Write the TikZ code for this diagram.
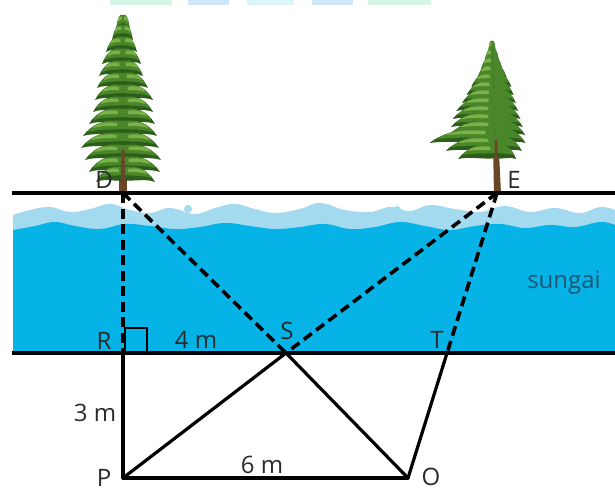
\documentclass[tikz,border=0pt]{standalone}
\usepackage{fontspec}
\setmainfont{Open Sans}
\usetikzlibrary{calc}
\definecolor{waterdeep}{HTML}{06B3E6}
\definecolor{waterfoam}{HTML}{A3DAF0}
\definecolor{needleA}{HTML}{2C5E1A}
\definecolor{needleB}{HTML}{4A872B}
\definecolor{needleC}{HTML}{7AB247}
\definecolor{bark}{HTML}{6A4628}
\definecolor{labelgrey}{HTML}{2A2A2A}
\definecolor{rivertext}{HTML}{1E5676}
\definecolor{stripG}{HTML}{D6F5E6}
\definecolor{stripB}{HTML}{CFE6F8}
\definecolor{stripC}{HTML}{DDF4FB}
\tikzset{
  bank/.style={line width=4pt, black},
  sight/.style={line width=3.6pt, black, dash pattern=on 10pt off 5.5pt},
  leg/.style={line width=3.2pt, black, line join=round, line cap=round},
  lbl/.style={font=\fontsize{24}{27}\selectfont, text=labelgrey, inner sep=0pt},
  strip/.style={draw=none}
}
\begin{document}
\begin{tikzpicture}[x=1pt,y=-1pt]
\useasboundingbox (0,0) rectangle (615,491);

% faint colour strips along the top edge
\fill[strip, fill=stripG] (110,0) rectangle (172,5);
\fill[strip, fill=stripB] (188,0) rectangle (229,5);
\fill[strip, fill=stripC] (247,0) rectangle (294,5);
\fill[strip, fill=stripB] (312,0) rectangle (353,5);
\fill[strip, fill=stripG] (368,0) rectangle (431,5);

% river: foam band and deep water
\fill[waterfoam] (13,353) -- (13,215)
  -- plot[smooth, tension=0.7] coordinates {(13,215) (30,210) (50,207) (70,212) (90,209) (110,204) (130,210) (150,213) (170,208) (195,214) (215,208) (235,204) (255,209) (275,213) (300,209) (320,203) (345,210) (370,212) (390,207) (410,211) (430,205) (455,209) (480,212) (505,206) (530,212) (555,208) (580,213) (600,207) (615,210)}
  -- (615,353) -- cycle;
\fill[waterdeep] (13,353) -- (13,230)
  -- plot[smooth, tension=0.7] coordinates {(13,230) (35,226) (55,222) (75,226) (100,229) (125,224) (150,226) (175,229) (200,227) (225,223) (250,226) (275,229) (300,227) (325,224) (350,229) (375,227) (400,222) (425,226) (450,230) (475,226) (500,224) (525,228) (550,225) (575,227) (600,222) (615,225)}
  -- (615,353) -- cycle;
\fill[waterfoam] (188,209) circle (4);
\fill[waterfoam] (397,210) circle (4);
\fill[waterfoam] (597,213) circle (4);

% left pine: trunk and drooping branch tiers
\fill[bark] (119,194) -- (127,194) -- (124.5,20) -- (121.5,20) -- cycle;
\foreach \y/\l/\r in {16/7/7, 26/11/10, 38/17/14, 50/21/18, 62/24/20, 74/26/25, 86/28/30, 98/30/30, 110/34/32, 122/40/34, 134/42/36, 146/38/38, 158/34/37, 168/27/32}{
  \fill[needleA] (123,\y) .. controls ({123-0.4*\l},{\y-3}) and ({123-0.8*\l},{\y+2}) .. ({123-\l},{\y+14})
     .. controls ({123-0.7*\l},{\y+10}) and ({123-0.3*\l},{\y+14}) .. (123,{\y+12}) -- cycle;
  \fill[needleA] (123,\y) .. controls ({123+0.4*\r},{\y-3}) and ({123+0.8*\r},{\y+2}) .. ({123+\r},{\y+14})
     .. controls ({123+0.7*\r},{\y+10}) and ({123+0.3*\r},{\y+14}) .. (123,{\y+12}) -- cycle;
  \fill[needleB] (123,{\y-1}) .. controls ({123-0.4*\l},{\y-3}) and ({123-0.75*\l},{\y+1}) .. ({123-0.88*\l},{\y+10})
     .. controls ({123-0.6*\l},{\y+7}) and ({123-0.3*\l},{\y+8}) .. (123,{\y+7}) -- cycle;
  \fill[needleB] (123,{\y-1}) .. controls ({123+0.4*\r},{\y-3}) and ({123+0.75*\r},{\y+1}) .. ({123+0.88*\r},{\y+10})
     .. controls ({123+0.6*\r},{\y+7}) and ({123+0.3*\r},{\y+8}) .. (123,{\y+7}) -- cycle;
  \fill[needleC] ({123-0.15*\l},{\y+1}) .. controls ({123-0.45*\l},{\y-1}) and ({123-0.7*\l},{\y+2}) .. ({123-0.75*\l},{\y+6})
     .. controls ({123-0.5*\l},{\y+4}) .. ({123-0.15*\l},{\y+4}) -- cycle;
  \fill[needleC] ({123+0.15*\r},{\y+1}) .. controls ({123+0.45*\r},{\y-1}) and ({123+0.7*\r},{\y+2}) .. ({123+0.75*\r},{\y+6})
     .. controls ({123+0.5*\r},{\y+4}) .. ({123+0.15*\r},{\y+4}) -- cycle;
}
\fill[bark] (120.5,194) -- (125.5,194) -- (124.5,150) -- (121.5,150) -- cycle;

% right pine: slightly leaning trunk, dense cone with a long low branch
\fill[bark] (494,194) -- (501,194) -- (494,45) -- (491,45) -- cycle;
\foreach \y/\l/\r in {42/4/4, 50/8/7, 58/12/10, 66/16/14, 74/22/18, 82/27/20, 90/32/22, 98/38/24, 106/42/26, 114/44/28, 122/46/30, 130/66/30, 138/50/26, 146/38/20}{
  \pgfmathsetmacro{\xc}{498-6*(193-\y)/151}
  \fill[needleA] (\xc,\y) .. controls ({\xc-0.4*\l},{\y-3}) and ({\xc-0.8*\l},{\y+2}) .. ({\xc-\l},{\y+13})
     .. controls ({\xc-0.7*\l},{\y+10}) and ({\xc-0.3*\l},{\y+14}) .. (\xc,{\y+12}) -- cycle;
  \fill[needleA] (\xc,\y) .. controls ({\xc+0.4*\r},{\y-3}) and ({\xc+0.8*\r},{\y+2}) .. ({\xc+\r},{\y+13})
     .. controls ({\xc+0.7*\r},{\y+10}) and ({\xc+0.3*\r},{\y+14}) .. (\xc,{\y+12}) -- cycle;
  \fill[needleB] (\xc,{\y-1}) .. controls ({\xc-0.4*\l},{\y-3}) and ({\xc-0.75*\l},{\y+1}) .. ({\xc-0.88*\l},{\y+9})
     .. controls ({\xc-0.6*\l},{\y+7}) and ({\xc-0.3*\l},{\y+8}) .. (\xc,{\y+7}) -- cycle;
  \fill[needleB] (\xc,{\y-1}) .. controls ({\xc+0.4*\r},{\y-3}) and ({\xc+0.75*\r},{\y+1}) .. ({\xc+0.88*\r},{\y+9})
     .. controls ({\xc+0.6*\r},{\y+7}) and ({\xc+0.3*\r},{\y+8}) .. (\xc,{\y+7}) -- cycle;
  \fill[needleC] ({\xc-0.15*\l},{\y+1}) .. controls ({\xc-0.45*\l},{\y-1}) and ({\xc-0.7*\l},{\y+2}) .. ({\xc-0.75*\l},{\y+5})
     .. controls ({\xc-0.5*\l},{\y+4}) .. ({\xc-0.15*\l},{\y+4}) -- cycle;
}
\fill[bark] (494.5,194) -- (500.5,194) -- (497,140) -- (494.5,140) -- cycle;

% key points of the measurement
\coordinate (D) at (123,193);
\coordinate (E) at (497,193);
\coordinate (R) at (123,353);
\coordinate (S) at (286,353);
\coordinate (P) at (123,478);
\coordinate (O) at (408,478);
\coordinate (T) at ($(E)!0.5614!(O)$);
\coordinate (bankL) at (12,193);
\coordinate (bankR) at (615,193);
\coordinate (shoreL) at (12,353);
\coordinate (shoreR) at (615,353);

% river banks
\draw[bank] (bankL) -- (bankR);
\draw[line width=3.6pt] (shoreL) -- (shoreR);

% right-angle mark at R
\draw[line width=2.2pt] ($(R)+(2,0)$) -- ($(R)+(2,-25)$) -- ($(R)+(24,-25)$) -- ($(R)+(24,0)$);

% sight lines across the river
\draw[sight] (D) -- (R);
\draw[sight] (D) -- (S);
\draw[sight] (E) -- (S);
\draw[sight] (E) -- (T);

% measured triangle on land
\draw[leg] (R) -- (P);
\draw[leg] (S) -- (P);
\draw[leg] (S) -- (O);
\draw[leg] (P) -- (O);
\draw[leg] (T) -- (O);

% labels
\node[lbl] (lD) at (104,180) {D};
\node[lbl] (lE) at (514,180) {E};
\node[lbl] (lR) at (104,341) {R};
\node[lbl] (l4) at (196,340) {4 m};
\node[lbl] (lS) at (287,331) {S};
\node[lbl] (lT) at (437,340) {T};
\node[lbl] (l3) at (95,413) {3 m};
\node[lbl] (lP) at (104,478) {P};
\node[lbl] (l6) at (262,465) {6 m};
\node[lbl] (lO) at (431,477) {O};
\node[lbl, text=rivertext] (riv) at (564,283) {sungai};
\end{tikzpicture}
\end{document}
